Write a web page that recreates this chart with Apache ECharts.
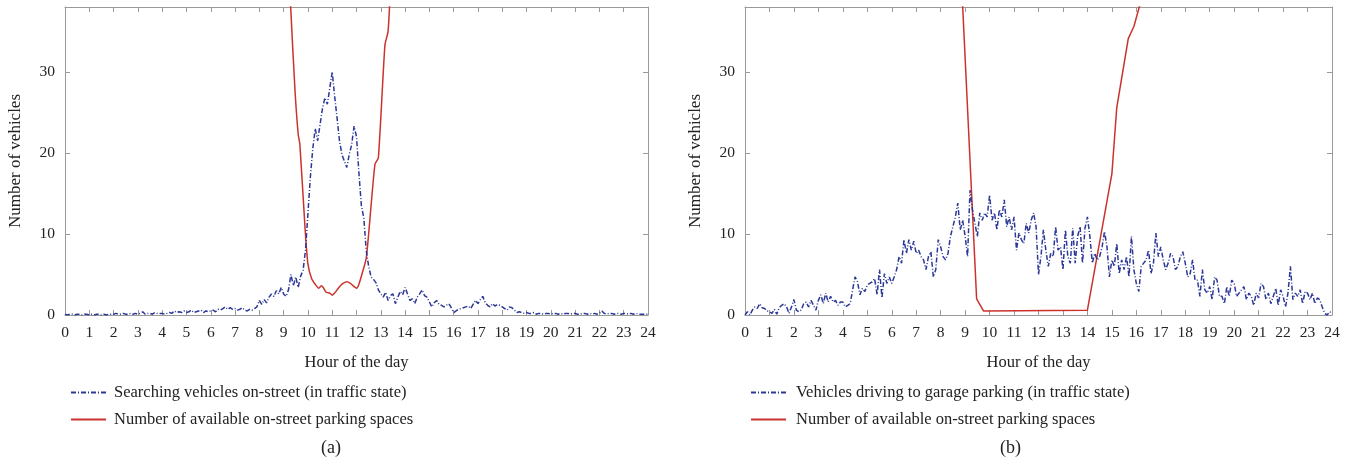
<!DOCTYPE html>
<html>
<head>
<meta charset="utf-8">
<script src="https://cdn.jsdelivr.net/npm/echarts@6/dist/echarts.min.js"></script>
<style>
    html, body { margin: 0; padding: 0; background: #fff; }
    #main { width: 1349px; height: 466px; }
</style>
</head>
<body>
<div id="main"></div>
<script>
// 横轴：一天中的小时（每0.1小时一个点）
var hourTicks = [0, 1, 2, 3, 4, 5, 6, 7, 8, 9, 10, 11, 12, 13, 14, 15, 16, 17, 18, 19, 20, 21, 22, 23, 24];
var yTicks = [0, 10, 20, 30];

// (a) 路边寻找车位的车辆
var searchingOnStreet = [
    0.1, 0.0, 0.1, 0.1, 0.0, 0.1, 0.1, 0.0, 0.1, 0.1,
    0.0, 0.1, 0.0, 0.1, 0.1, 0.0, 0.1, 0.0, 0.1, 0.1,
    0.1, 0.2, 0.1, 0.1, 0.2, 0.1, 0.1, 0.2, 0.1, 0.2,
    0.1, 0.2, 0.4, 0.1, 0.2, 0.2, 0.1, 0.3, 0.2, 0.2,
    0.2, 0.1, 0.2, 0.3, 0.2, 0.5, 0.3, 0.4, 0.3, 0.5,
    0.3, 0.4, 0.6, 0.3, 0.4, 0.5, 0.6, 0.3, 0.5, 0.4,
    0.5, 0.6, 0.4, 0.7, 0.6, 0.8, 1.0, 0.7, 0.9, 0.7,
    0.8, 0.6, 0.7, 0.9, 0.6, 0.5, 0.7, 0.6, 0.8, 1.0,
    1.8, 1.3, 1.9, 1.5, 2.2, 2.6, 2.3, 3.0, 2.6, 3.4,
    2.6, 2.3, 3.1, 5.0, 3.6, 4.7, 3.4, 4.8, 5.5, 8.0,
    12.5, 17.0, 20.5, 23.0, 21.5, 23.5, 25.5, 26.8, 26.0, 28.0,
    30.0, 27.0, 24.3, 21.5, 19.8, 19.0, 18.2, 19.8, 21.0, 23.3,
    22.0, 17.5, 13.5, 12.0, 8.0, 6.0, 4.7, 4.4, 4.0, 3.1,
    2.6, 2.2, 2.8, 1.8, 2.4, 2.6, 1.4, 2.2, 2.9, 2.5,
    3.4, 2.6, 1.8, 2.0, 1.4, 2.2, 2.6, 3.1, 2.4, 2.2,
    1.6, 1.0, 1.5, 1.8, 1.3, 1.2, 1.0, 1.2, 1.4, 0.9,
    0.3, 0.5, 0.7, 0.8, 0.9, 1.0, 1.1, 0.8, 1.3, 1.8,
    1.4, 1.9, 2.3, 1.5, 1.2, 1.0, 1.4, 1.1, 1.3, 1.2,
    1.0, 0.8, 0.6, 1.0, 0.9, 0.6, 0.3, 0.4, 0.3, 0.2,
    0.3, 0.2, 0.2, 0.3, 0.1, 0.2, 0.2, 0.1, 0.2, 0.2,
    0.1, 0.2, 0.2, 0.1, 0.2, 0.1, 0.2, 0.2, 0.1, 0.2,
    0.2, 0.1, 0.1, 0.2, 0.2, 0.1, 0.2, 0.1, 0.2, 0.1,
    0.2, 0.5, 0.2, 0.1, 0.2, 0.2, 0.1, 0.2, 0.2, 0.1,
    0.2, 0.2, 0.1, 0.2, 0.1, 0.2, 0.1, 0.1, 0.1, 0.1,
    0.1
];

// (b) 驶向停车场的车辆
var drivingToGarage = [
    0.0, 0.4, 0.0, 0.6, 1.0, 0.8, 1.4, 0.9, 0.8, 0.5,
    0.4, 0.2, 0.7, 0.1, 0.9, 1.2, 1.4, 1.0, 0.2, 1.0,
    1.9, 0.6, 0.4, 0.6, 1.4, 1.6, 1.0, 1.8, 1.2, 0.6,
    1.8, 2.5, 1.4, 2.7, 1.6, 2.3, 1.6, 1.8, 1.2, 1.6,
    1.6, 1.0, 1.2, 1.4, 3.1, 4.7, 4.1, 2.5, 3.3, 2.9,
    3.7, 3.9, 4.1, 4.5, 2.5, 5.6, 2.1, 5.1, 3.9, 4.7,
    3.9, 4.7, 5.6, 7.2, 6.4, 9.3, 7.6, 9.3, 8.0, 9.1,
    7.6, 8.0, 7.2, 6.8, 5.6, 7.2, 7.8, 4.7, 5.6, 9.3,
    8.4, 7.2, 6.8, 7.6, 9.7, 10.9, 12.1, 13.8, 10.5, 11.7,
    9.7, 7.2, 15.4, 13.0, 11.3, 9.7, 12.6, 11.7, 12.6, 12.1,
    14.8, 11.7, 12.6, 10.5, 13.0, 12.1, 14.2, 10.9, 12.1, 10.5,
    12.1, 8.0, 10.1, 9.3, 8.8, 11.3, 10.1, 11.7, 12.6, 10.9,
    5.0, 7.2, 10.5, 8.0, 6.0, 7.6, 7.2, 10.9, 8.0, 8.4,
    5.6, 10.5, 7.2, 6.4, 10.7, 6.4, 9.7, 10.9, 6.4, 10.7,
    12.1, 9.7, 6.4, 7.6, 6.8, 7.2, 8.4, 10.3, 8.4, 4.7,
    6.8, 6.0, 8.8, 5.1, 6.8, 5.6, 7.2, 4.7, 9.7, 5.6,
    3.9, 2.9, 6.0, 6.4, 6.8, 8.0, 5.1, 6.4, 10.1, 7.2,
    8.4, 6.8, 5.6, 6.4, 7.6, 7.2, 5.6, 6.0, 7.2, 7.8,
    6.4, 4.7, 5.1, 6.8, 4.3, 4.3, 2.3, 5.6, 3.1, 2.7,
    3.5, 1.9, 4.7, 4.3, 2.3, 2.3, 1.4, 3.5, 2.3, 4.3,
    3.9, 2.3, 2.7, 3.1, 3.5, 1.9, 2.7, 2.3, 1.2, 2.7,
    2.1, 3.9, 3.5, 1.9, 2.7, 1.4, 2.3, 3.3, 1.2, 3.1,
    2.3, 1.0, 2.7, 6.0, 1.9, 2.7, 2.3, 3.1, 1.4, 2.9,
    2.7, 1.9, 2.7, 1.4, 2.1, 1.9, 1.0, 0.2, 0.0, 0.4,
    0.2
];

// 可用路边车位（超出纵轴上限的部分被裁掉）
var spacesHoursA = [9.24, 9.29, 9.47, 9.6, 9.67, 9.88, 10.0, 10.15, 10.3, 10.45, 10.55, 10.63, 10.75, 10.9, 11.0, 11.1, 11.25, 11.4, 11.6, 11.75, 11.9, 12.0, 12.1, 12.25, 12.4, 12.5, 12.76, 12.9, 13.17, 13.3, 13.42];
var spacesValuesA = [42, 38, 27.6, 22.3, 21.0, 10.8, 6.3, 4.5, 3.8, 3.3, 3.6, 3.4, 2.8, 2.7, 2.45, 2.7, 3.3, 3.8, 4.1, 3.9, 3.5, 3.3, 3.8, 5.3, 7.0, 10.0, 18.6, 19.4, 33.3, 35.0, 42];
var spacesHoursB = [8.85, 9.47, 9.75, 14.0, 15.0, 15.2, 15.67, 15.9, 16.35];
var spacesValuesB = [41.2, 2.0, 0.5, 0.6, 17.4, 25.6, 34.1, 35.6, 40.5];

var nameA = 'Searching vehicles on-street (in traffic state)';
var nameB = 'Vehicles driving to garage parking (in traffic state)';
var nameSpaces = 'Number of available on-street parking spaces';

var blue = '#2c3896';
var red = '#cc322c';
var axisGray = '#9a9a9a';
var font = '"Liberation Serif", "DejaVu Serif", serif';

function toPairs(values) {
    var out = [];
    for (var i = 0; i < values.length; i++) {
        out.push([i / 10, values[i]]);
    }
    return out;
}
function zipPairs(xs, ys) {
    var out = [];
    for (var i = 0; i < xs.length; i++) {
        out.push([xs[i], ys[i]]);
    }
    return out;
}

/**
 * 生成一对x轴（下方带标签，上方只有刻度）
 */
function makeXAxes(gridIndex) {
    return [{
        type: 'value', gridIndex: gridIndex, min: 0, max: 24, interval: 1,
        name: 'Hour of the day', nameLocation: 'middle', nameGap: 39,
        nameTextStyle: { fontFamily: font, fontSize: 16.5, color: '#222' },
        axisLine: { show: true, onZero: false, lineStyle: { color: axisGray } },
        axisTick: { inside: true, length: 5, lineStyle: { color: axisGray } },
        axisLabel: { fontFamily: font, fontSize: 15.5, color: '#222', margin: 10 },
        splitLine: { show: false }
    }, {
        type: 'value', gridIndex: gridIndex, position: 'top', min: 0, max: 24, interval: 1,
        axisLine: { show: true, onZero: false, lineStyle: { color: axisGray } },
        axisTick: { inside: true, length: 5, lineStyle: { color: axisGray } },
        axisLabel: { show: false },
        splitLine: { show: false }
    }];
}

function makeYAxes(gridIndex) {
    return [{
        type: 'value', gridIndex: gridIndex, min: 0, max: 38,
        name: 'Number of vehicles', nameLocation: 'middle', nameGap: 41,
        nameTextStyle: { fontFamily: font, fontSize: 17, color: '#222' },
        axisLine: { show: true, onZero: false, lineStyle: { color: axisGray } },
        axisTick: { inside: true, length: 5, customValues: yTicks, lineStyle: { color: axisGray } },
        axisLabel: { fontFamily: font, fontSize: 15.5, color: '#222', margin: 10, customValues: yTicks },
        splitLine: { show: false }
    }, {
        type: 'value', gridIndex: gridIndex, position: 'right', min: 0, max: 38,
        axisLine: { show: true, onZero: false, lineStyle: { color: axisGray } },
        axisTick: { inside: true, length: 5, customValues: yTicks, lineStyle: { color: axisGray } },
        axisLabel: { show: false },
        splitLine: { show: false }
    }];
}

var chart = echarts.init(document.getElementById('main'));

var legendBase = {
    orient: 'vertical', itemWidth: 35, itemHeight: 14, itemGap: 10, top: 379,
    itemStyle: { opacity: 0 },
    selectedMode: false
};

var option = {
    animation: false,
    backgroundColor: '#fff',
    grid: [
        { left: 65, top: 7, width: 583, height: 308 },
        { left: 745, top: 7, width: 587, height: 308 }
    ],
    xAxis: makeXAxes(0).concat(makeXAxes(1)),
    yAxis: makeYAxes(0).concat(makeYAxes(1)),
    legend: [
        echarts.util.extend({
            left: 65, data: [nameA, nameSpaces],
            textStyle: { fontFamily: font, fontSize: 16.5, color: '#222', padding: [0, 0, 0, 3] }
        }, legendBase),
        echarts.util.extend({
            left: 745, data: [nameB, nameSpaces],
            textStyle: { fontFamily: font, fontSize: 16.5, color: '#222', padding: [0, 0, 0, 5] }
        }, legendBase)
    ],
    graphic: [
        { type: 'text', left: 321, top: 439, style: { text: '(a)', font: '18px ' + font, fill: '#222' } },
        { type: 'text', left: 1000, top: 439, style: { text: '(b)', font: '18px ' + font, fill: '#222' } }
    ],
    series: [{
        name: nameA, type: 'line', xAxisIndex: 0, yAxisIndex: 0,
        data: toPairs(searchingOnStreet), symbol: 'none', z: 3,
        lineStyle: { color: blue, width: 1.5, type: [5, 2, 1, 2] },
        itemStyle: { color: blue }
    }, {
        name: nameSpaces, type: 'line', xAxisIndex: 0, yAxisIndex: 0,
        data: zipPairs(spacesHoursA, spacesValuesA), symbol: 'none', smooth: 0.2, z: 2,
        lineStyle: { color: red, width: 1.5 },
        itemStyle: { color: red }
    }, {
        name: nameB, type: 'line', xAxisIndex: 2, yAxisIndex: 2,
        data: toPairs(drivingToGarage), symbol: 'none', z: 3,
        lineStyle: { color: blue, width: 1.5, type: [5, 2, 1, 2] },
        itemStyle: { color: blue }
    }, {
        name: nameSpaces, type: 'line', xAxisIndex: 2, yAxisIndex: 2,
        data: zipPairs(spacesHoursB, spacesValuesB), symbol: 'none', z: 2,
        lineStyle: { color: red, width: 1.5 },
        itemStyle: { color: red }
    }]
};

chart.setOption(option);
</script>
</body>
</html>
